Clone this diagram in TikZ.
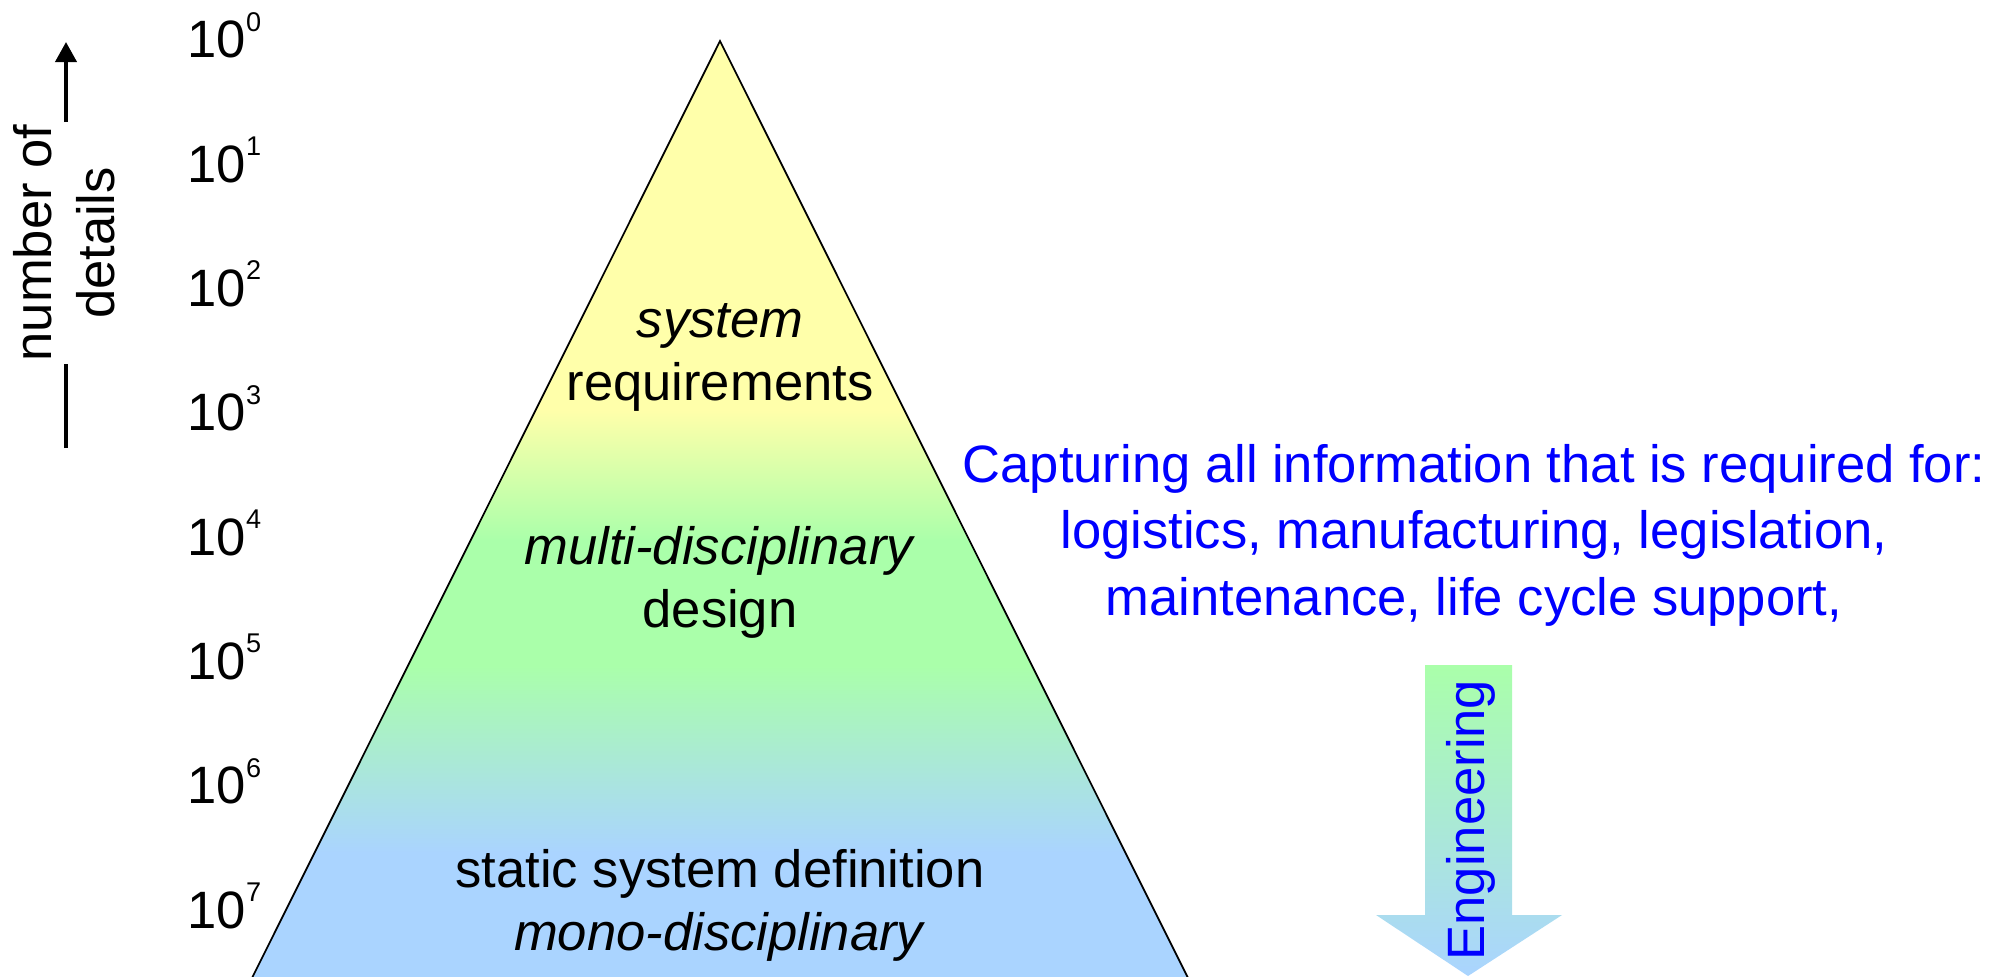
\documentclass[tikz,border=0pt]{standalone}
\usepackage{fontspec}
\setmainfont{Liberation Sans}
\usetikzlibrary{arrows.meta}

\definecolor{reqYellow}{RGB}{255,255,170}
\definecolor{designGreen}{RGB}{170,255,170}
\definecolor{staticBlue}{RGB}{170,212,255}
\definecolor{captureBlue}{RGB}{0,0,255}

\newcommand{\mainFont}{\fontsize{14.95}{17.8}\selectfont}
\newcommand{\captureFont}{\fontsize{14.95}{18.8}\selectfont}
\newcommand{\tenpow}[1]{10\raisebox{7.6pt}{\fontsize{7.7}{8}\selectfont #1}}
\newcommand{\pyrX}{720}
\newcommand{\powX}{187}
\newcommand{\powY}{58}
\newcommand{\powDeltaY}{124.3}

\tikzset{
  pyrtext/.style={font=\mainFont, align=center, inner sep=0pt},
  powtext/.style={font=\mainFont, inner sep=0pt},
  axistext/.style={font=\mainFont, align=center, inner sep=0.5pt, rotate=90},
  axisline/.style={line width=1.1pt},
  capturetext/.style={font=\captureFont, align=center, inner sep=0pt, text=captureBlue},
}

\begin{document}
\begin{tikzpicture}[x=0.01cm, y=-0.01cm]
  \useasboundingbox (0,0) rectangle (2013,976);

  % Pyramid
  \coordinate (apex) at (\pyrX,41);
  \coordinate (baseL) at (246,990);
  \coordinate (baseR) at (1194,990);
  \begin{scope}
    \clip (apex) -- (baseR) -- (baseL) -- cycle;
    \fill[reqYellow] (0,0) rectangle (2013,411);
    \shade[top color=reqYellow, bottom color=designGreen] (0,410) rectangle (2013,541);
    \fill[designGreen] (0,540) rectangle (2013,666);
    \shade[top color=designGreen, bottom color=staticBlue] (0,665) rectangle (2013,853);
    \fill[staticBlue] (0,852) rectangle (2013,1000);
  \end{scope}
  \draw[line width=0.5pt] (apex) -- (baseR) -- (baseL) -- cycle;

  % Pyramid levels (base = last line)
  \node[pyrtext, anchor=base] (sysreq) at (\pyrX,400) {\textit{system}\\requirements};
  \node[pyrtext, anchor=base] (multidesign) at (\pyrX,627) {\textit{multi-disciplinary}\\design};
  \node[pyrtext, anchor=base] (staticdef) at (\pyrX,950) {static system definition\\\textit{mono-disciplinary}};

  % Powers of ten
  \foreach \k in {0,...,7}
    \node[powtext, anchor=base west] (pow\k) at (\powX,{\powY+\powDeltaY*\k}) {\tenpow{\k}};

  % Axis arrow
  \coordinate (axisbot) at (66,448);
  \coordinate (axistop) at (66,42);
  \node[axistext] (axislbl) at (64,243) {number of\\details};
  \draw[axisline] (axisbot) -- (axisbot |- axislbl.west);
  \draw[axisline, -{Triangle[width=0.21cm, length=0.2cm]}] (axisbot |- axislbl.east) -- (axistop);

  % Captured information
  \node[capturetext, anchor=base] (capture) at (1474,615)
    {Capturing all information that is required for:\\
     logistics, manufacturing, legislation,\\
     maintenance, life cycle support,};

  % Engineering arrow
  \shade[top color=designGreen, bottom color=staticBlue]
    (1425,665) -- (1512,665) -- (1512,915) -- (1562,915) -- (1468,976)
    -- (1376,915) -- (1425,915) -- cycle;
  \node[font=\mainFont, text=captureBlue, inner sep=0pt, rotate=90] (engineering) at (1471,820) {Engineering};
\end{tikzpicture}
\end{document}
